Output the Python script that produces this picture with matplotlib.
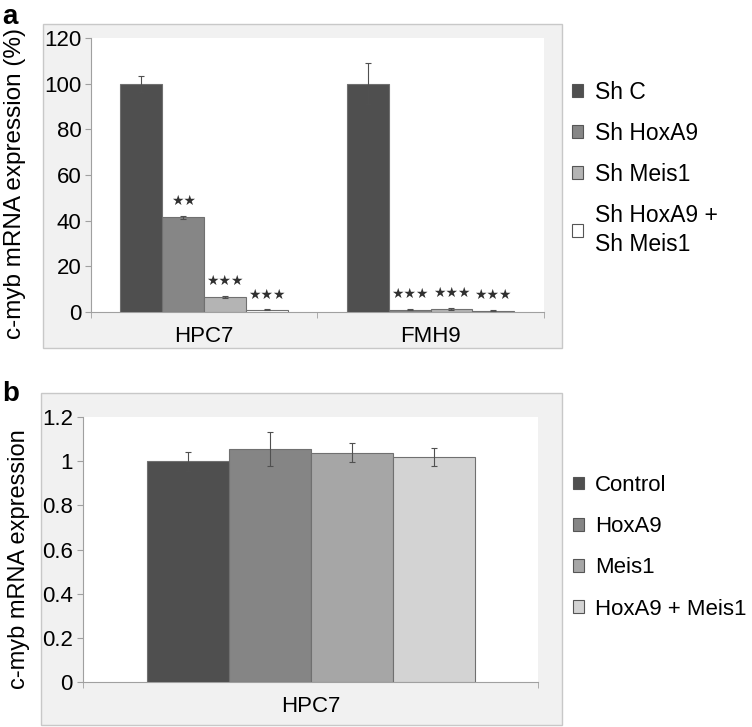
import matplotlib.pyplot as plt
from matplotlib.patches import Rectangle
import numpy as np

plt.rcParams['font.family'] = ['Liberation Sans', 'DejaVu Sans']

# panel a data
cells_a = ['HPC7', 'FMH9']
series_a = ['Sh C', 'Sh HoxA9', 'Sh Meis1', 'Sh HoxA9 +\nSh Meis1']
vals_a = [[100, 100], [41.5, 1.0], [6.5, 1.5], [1.0, 0.6]]
errs_a = [[3.5, 9.0], [0.6, 0.3], [0.4, 0.4], [0.2, 0.2]]
stars_a = [['', ''], ['★★', '★★★'], ['★★★', '★★★'], ['★★★', '★★★']]
colors_a = ['#4f4f4f', '#868686', '#b4b4b4', '#ffffff']

# panel b data
cells_b = ['HPC7']
series_b = ['Control', 'HoxA9', 'Meis1', 'HoxA9 + Meis1']
vals_b = [1.0, 1.054, 1.039, 1.019]
errs_b = [0.043, 0.077, 0.042, 0.041]
colors_b = ['#4f4f4f', '#858585', '#a6a6a6', '#d3d3d3']

fig = plt.figure(figsize=(7.52, 7.27), dpi=100)

# gray chart-area boxes
for box in [(0.057, 0.521, 0.690, 0.446), (0.0545, 0.003, 0.693, 0.457)]:
    fig.patches.append(Rectangle(box[:2], box[2], box[3], transform=fig.transFigure,
                                 facecolor='#f1f1f1', edgecolor='#c8c8c8', lw=1, zorder=-5))


def style_axes(ax, ncat):
    ax.set_facecolor('white')
    for s in ['top', 'right']:
        ax.spines[s].set_visible(False)
    ax.spines['left'].set_color('#a0a0a0')
    ax.spines['bottom'].set_color('#a0a0a0')
    ax.set_xlim(0, ncat)
    ax.set_xticks(np.arange(ncat) + 0.5)
    ax.set_xticks(np.arange(ncat + 1), minor=True)
    ax.tick_params(axis='x', which='major', length=0, labelsize=16, pad=10)
    ax.tick_params(axis='x', which='minor', length=4, color='#a0a0a0')
    ax.tick_params(axis='y', length=4, color='#a0a0a0', labelsize=16, pad=3)


# ---- panel a ----
ax1 = fig.add_axes([0.121, 0.5708, 0.602, 0.377])
style_axes(ax1, len(cells_a))
w = 0.185
x = np.arange(len(cells_a)) + 0.5
for i, name in enumerate(series_a):
    xs = x + (i - 1.5) * w
    ax1.bar(xs, vals_a[i], w, color=colors_a[i], edgecolor='#707070', lw=0.8,
            yerr=errs_a[i], error_kw=dict(ecolor='#505050', elinewidth=0.8, capsize=2.5, capthick=0.8),
            label=name, zorder=3)
    for j in range(len(cells_a)):
        if stars_a[i][j]:
            ax1.text(xs[j], vals_a[i][j] + errs_a[i][j] + 6.5, stars_a[i][j], ha='center', va='center',
                     fontsize=10, family='DejaVu Sans', color='#303030')
ax1.set_ylim(0, 120)
ax1.set_yticks(range(0, 121, 20))
ax1.set_xticklabels(cells_a)
ax1.set_ylabel('c-myb mRNA expression (%)', fontsize=17.5)
ax1.yaxis.set_label_coords(-0.143, 0.47)
leg1 = ax1.legend(loc='upper left', bbox_to_anchor=(1.017, 0.918), frameon=False, fontsize=16.5,
                  handlelength=0.5, handleheight=0.5, handletextpad=0.5, labelspacing=0.78)
for h in leg1.legend_handles:
    h.set_edgecolor('#555555')
leg1.get_texts()[3].set_linespacing(1.35)
fig.text(0.003, 0.976, 'a', fontsize=20, fontweight='bold', va='center')

# ---- panel b ----
ax2 = fig.add_axes([0.110, 0.0619, 0.606, 0.3645])
style_axes(ax2, len(cells_b))
w = 0.18
xb = 0.5 + (np.arange(len(series_b)) - 1.5) * w
for i, name in enumerate(series_b):
    ax2.bar(xb[i], vals_b[i], w, color=colors_b[i], edgecolor='#707070', lw=0.8,
            yerr=errs_b[i], error_kw=dict(ecolor='#505050', elinewidth=0.8, capsize=2.5, capthick=0.8),
            label=name, zorder=3)
ax2.set_ylim(0, 1.2)
ax2.set_yticks([0, 0.2, 0.4, 0.6, 0.8, 1.0, 1.2])
ax2.set_yticklabels(['0', '0.2', '0.4', '0.6', '0.8', '1', '1.2'])
ax2.set_xticklabels(cells_b)
ax2.set_ylabel('c-myb mRNA expression', fontsize=17)
ax2.yaxis.set_label_coords(-0.116, 0.464)
leg2 = ax2.legend(loc='upper left', bbox_to_anchor=(1.031, 0.857), frameon=False, fontsize=16,
                  handlelength=0.5, handleheight=0.5, handletextpad=0.5, labelspacing=0.91)
for h in leg2.legend_handles:
    h.set_edgecolor('#555555')
fig.text(0.003, 0.458, 'b', fontsize=20, fontweight='bold', va='center')

fig.savefig('out.png', dpi=100)
